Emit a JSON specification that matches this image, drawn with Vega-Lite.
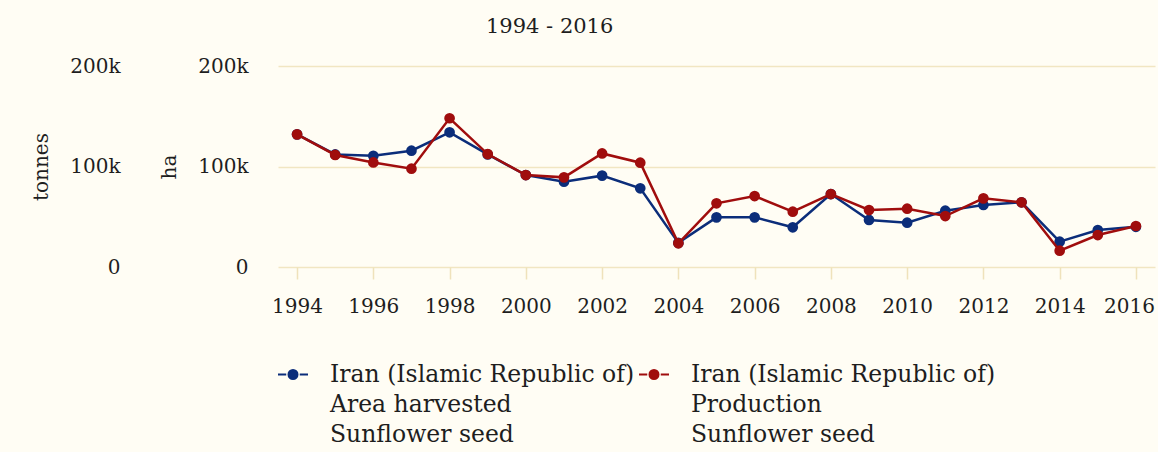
{
  "$schema": "https://vega.github.io/schema/vega-lite/v6.json",
  "autosize": {"type": "none"},
  "width": 877,
  "height": 201,
  "padding": {"left": 278, "top": 66, "right": 3, "bottom": 185},
  "background": "#fffdf4",
  "title": {
    "text": "1994 - 2016",
    "anchor": "start",
    "frame": "group",
    "dx": 208,
    "offset": 19,
    "font": "DejaVu Serif",
    "fontSize": 21,
    "fontWeight": "normal",
    "color": "#1e1e1e"
  },
  "config": {
    "view": {"stroke": null},
    "font": "DejaVu Serif",
    "axis": {
      "labelFont": "DejaVu Serif",
      "titleFont": "DejaVu Serif",
      "labelFontSize": 20,
      "titleFontSize": 20,
      "titleFontWeight": "normal",
      "labelColor": "#1e1e1e",
      "titleColor": "#1e1e1e",
      "gridColor": "#f1e6c2",
      "gridWidth": 1.5,
      "tickColor": "#efe2bb",
      "domain": false
    },
    "legend": {
      "labelFont": "DejaVu Serif",
      "labelFontSize": 23.5,
      "labelColor": "#1e1e1e"
    }
  },
  "data": {
    "values": [
      {"year": 1994, "series": "area", "value": 132000},
      {"year": 1995, "series": "area", "value": 112000},
      {"year": 1996, "series": "area", "value": 110700},
      {"year": 1997, "series": "area", "value": 115700},
      {"year": 1998, "series": "area", "value": 134000},
      {"year": 1999, "series": "area", "value": 112000},
      {"year": 2000, "series": "area", "value": 91500},
      {"year": 2001, "series": "area", "value": 84900},
      {"year": 2002, "series": "area", "value": 90900},
      {"year": 2003, "series": "area", "value": 78300},
      {"year": 2004, "series": "area", "value": 24000},
      {"year": 2005, "series": "area", "value": 49400},
      {"year": 2006, "series": "area", "value": 49400},
      {"year": 2007, "series": "area", "value": 39500},
      {"year": 2008, "series": "area", "value": 72600},
      {"year": 2009, "series": "area", "value": 46800},
      {"year": 2010, "series": "area", "value": 44100},
      {"year": 2011, "series": "area", "value": 56000},
      {"year": 2012, "series": "area", "value": 61700},
      {"year": 2013, "series": "area", "value": 64400},
      {"year": 2014, "series": "area", "value": 25200},
      {"year": 2015, "series": "area", "value": 36800},
      {"year": 2016, "series": "area", "value": 40000},
      {"year": 1994, "series": "production", "value": 132000},
      {"year": 1995, "series": "production", "value": 111500},
      {"year": 1996, "series": "production", "value": 104000},
      {"year": 1997, "series": "production", "value": 97800},
      {"year": 1998, "series": "production", "value": 148000},
      {"year": 1999, "series": "production", "value": 112400},
      {"year": 2000, "series": "production", "value": 91500},
      {"year": 2001, "series": "production", "value": 89200},
      {"year": 2002, "series": "production", "value": 113000},
      {"year": 2003, "series": "production", "value": 103800},
      {"year": 2004, "series": "production", "value": 23600},
      {"year": 2005, "series": "production", "value": 63400},
      {"year": 2006, "series": "production", "value": 70600},
      {"year": 2007, "series": "production", "value": 55000},
      {"year": 2008, "series": "production", "value": 72600},
      {"year": 2009, "series": "production", "value": 56700},
      {"year": 2010, "series": "production", "value": 58000},
      {"year": 2011, "series": "production", "value": 50700},
      {"year": 2012, "series": "production", "value": 68300},
      {"year": 2013, "series": "production", "value": 64400},
      {"year": 2014, "series": "production", "value": 16200},
      {"year": 2015, "series": "production", "value": 31800},
      {"year": 2016, "series": "production", "value": 40800}
    ]
  },
  "encoding": {
    "x": {
      "field": "year",
      "type": "quantitative",
      "scale": {"domain": [1993.5, 2016.5], "nice": false, "zero": false},
      "axis": {
        "title": null,
        "values": [1994, 1996, 1998, 2000, 2002, 2004, 2006, 2008, 2010, 2012, 2014, 2016],
        "format": "d",
        "grid": false,
        "tickSize": 12,
        "tickWidth": 1.5,
        "labelPadding": 17,
        "labelFlush": false,
        "labelOffset": {"condition": {"test": "datum.value == 2016", "value": -7}, "value": 0}
      }
    },
    "color": {
      "field": "series",
      "type": "nominal",
      "scale": {"domain": ["area", "production"], "range": ["#0b2d7a", "#a00d0d"]},
      "legend": {
        "title": null,
        "orient": "none",
        "legendX": 0,
        "legendY": 281,
        "direction": "horizontal",
        "columns": 2,
        "columnPadding": 0,
        "padding": 0,
        "symbolType": "M-1,0.75L-0.45,0.75M0.45,0.75L1,0.75M-0.3,0.75A0.3,0.3,0,1,0,0.3,0.75A0.3,0.3,0,1,0,-0.3,0.75Z",
        "symbolSize": 900,
        "symbolStrokeWidth": 2,
        "labelOffset": 20,
        "labelBaseline": "top",
        "labelLimit": 0,
        "labelExpr": "datum.value == 'area' ? ['Iran (Islamic Republic of)', 'Area harvested', 'Sunflower seed'] : ['Iran (Islamic Republic of)', 'Production', 'Sunflower seed']",
        "encode": {
          "symbols": {"update": {
            "x": {"signal": "datum.value == 'production' ? -13 : 15"},
            "fill": {"scale": "color", "field": "value"},
            "stroke": {"scale": "color", "field": "value"},
            "opacity": {"value": 1}
          }},
          "labels": {"update": {
            "lineHeight": {"value": 30},
            "dx": {"signal": "datum.value == 'production' ? -28 : 0"}
          }}
        }
      }
    }
  },
  "layer": [
    {
      "transform": [{"filter": "datum.series == 'area'"}],
      "mark": {"type": "line", "strokeWidth": 2.5, "point": {"filled": true, "size": 115}},
      "encoding": {
        "y": {
          "field": "value",
          "type": "quantitative",
          "scale": {"domain": [0, 200000], "nice": false},
          "axis": {
            "title": "ha",
            "orient": "left",
            "values": [0, 100000, 200000],
            "labelExpr": "datum.value == 0 ? '0' : format(datum.value, '~s')",
            "ticks": false,
            "labelPadding": 30,
            "titlePadding": 18,
            "grid": true
          }
        }
      }
    },
    {
      "transform": [{"filter": "datum.series == 'production'"}],
      "mark": {"type": "line", "strokeWidth": 2.5, "point": {"filled": true, "size": 115}},
      "encoding": {
        "y": {
          "field": "value",
          "type": "quantitative",
          "scale": {"domain": [0, 200000], "nice": false},
          "axis": {
            "title": "tonnes",
            "orient": "left",
            "offset": 128,
            "values": [0, 100000, 200000],
            "labelExpr": "datum.value == 0 ? '0' : format(datum.value, '~s')",
            "ticks": false,
            "labelPadding": 30,
            "titlePadding": 18,
            "grid": false
          }
        }
      }
    }
  ],
  "resolve": {"scale": {"y": "independent"}}
}
